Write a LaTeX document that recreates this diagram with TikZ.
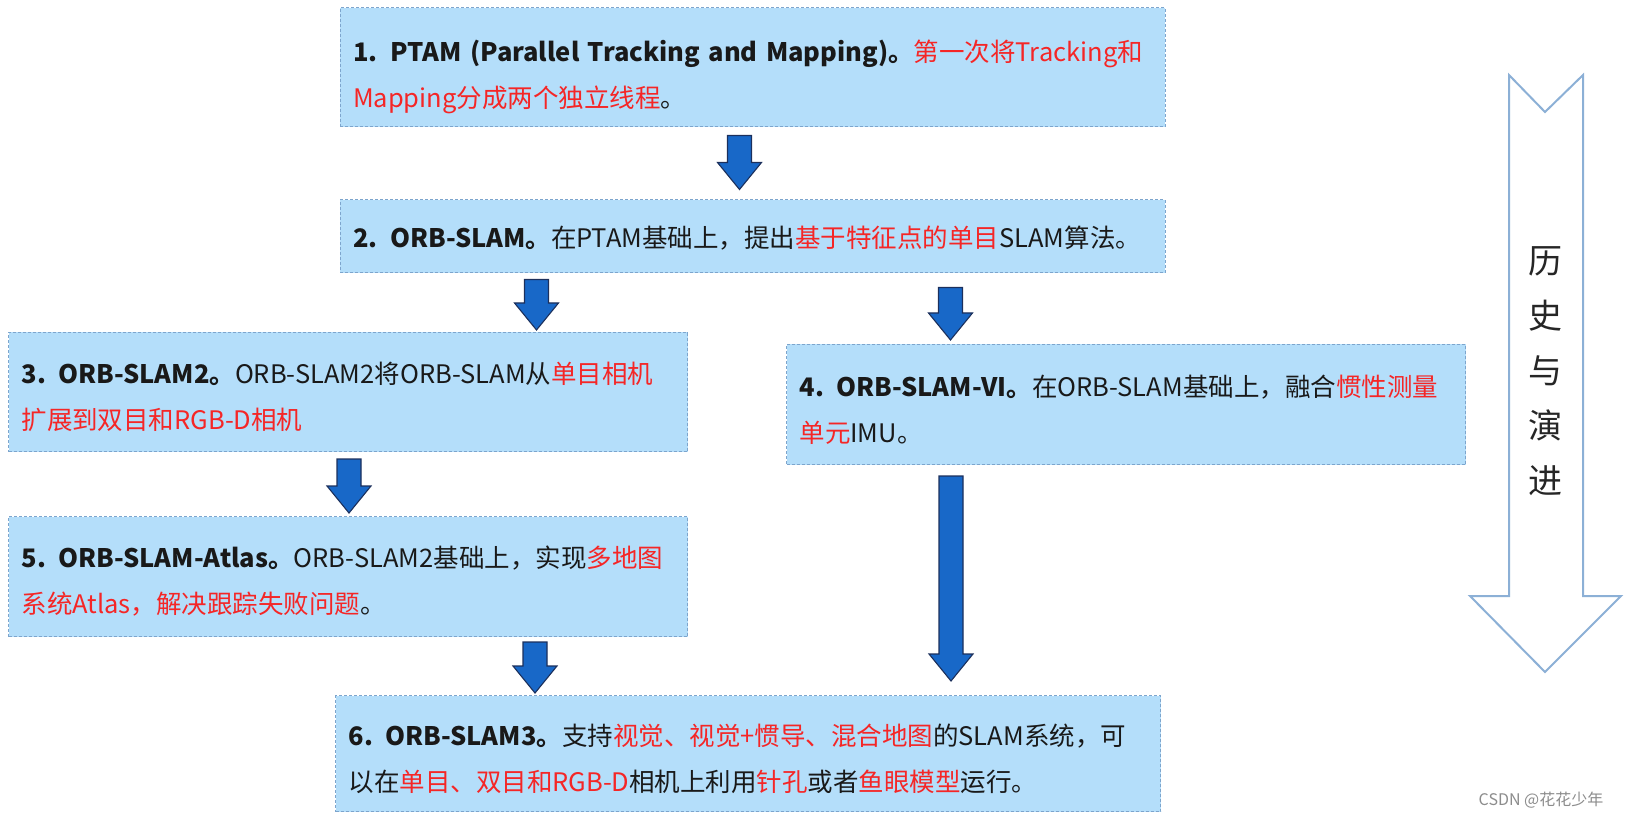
\documentclass[tikz,border=0pt]{standalone}
\usepackage{fontspec}
\setmainfont{Noto Sans CJK SC}
\usetikzlibrary{positioning,calc}

\definecolor{fundo}{RGB}{180,222,250}
\definecolor{borda}{RGB}{125,165,205}
\definecolor{destaque}{RGB}{245,38,38}
\definecolor{azul}{RGB}{24,104,200}
\definecolor{azulesc}{RGB}{28,48,92}
\definecolor{contorno}{RGB}{140,176,214}

\newcommand\hl[1]{\textcolor{destaque}{#1}}
% text sits a little low in the boxes
\def\descevalor{10}
\newcommand\baixa{\par\vspace*{-\descevalor pt}}
% block arrow: top of the shaft, then the tip
\newcommand\seta[2]{%
  \path[seta] let \p1=#1, \p2=#2 in
    (\x1-12pt,\y1) -- (\x1+12pt,\y1) -- (\x1+12pt,\y2+27pt)
    -- (\x1+22pt,\y2+27pt) -- (\x1,\y2) -- (\x1-22pt,\y2+27pt)
    -- (\x1-12pt,\y2+27pt) -- cycle;}

\begin{document}
\begin{tikzpicture}[
  x=1pt, y=-1pt,
  font=\fontsize{25.5}{46}\selectfont,
  desce/.code={\def\descevalor{#1}},
  etapa/.style={draw=borda, dashed, dash pattern=on 3pt off 2pt, line width=1pt,
                fill=fundo, align=left, inner xsep=13pt, inner ysep=0pt,
                text=black!90, execute at end node=\baixa},
  larga/.style={etapa, text width=799pt, minimum width=825pt},
  estreita/.style={etapa, text width=653pt, minimum width=679pt},
  seta/.style={fill=azul, draw=azulesc, line width=1.1pt, line join=miter},
  historia/.style={draw=contorno, line width=2pt, fill=white},
  marca/.style={font=\fontsize{16}{18}\selectfont, text=black!45}
]
  \useasboundingbox (0,0) rectangle (1626,818);

  % first line of the history
  \node[larga, minimum height=119pt, desce=18] (ptam) at (752.5,67.5)
       {\makebox[\linewidth][s]{\textbf{1. PTAM (Parallel Tracking and Mapping)。}\hl{第一次将Tracking和}}\\
        \hl{Mapping分成两个独立线程}。};
  \node[larga, minimum height=73pt, below=72pt of ptam, desce=6] (orb)
       {\textbf{2. ORB-SLAM。}在PTAM基础上，提出\hl{基于特征点的单目}SLAM算法。};

  % two branches
  \node[estreita, minimum height=119pt, anchor=north west] (orb2) at (8,332)
       {\textbf{3. ORB-SLAM2。}ORB-SLAM2将ORB-SLAM从\hl{单目相机}\\
        \hl{扩展到双目和RGB-D相机}};
  \node[estreita, minimum height=120pt, anchor=north west] (orbvi) at (786,344)
       {\textbf{4. ORB-SLAM-VI。}在ORB-SLAM基础上，融合\hl{惯性测量}\\
        \hl{单元}IMU。};
  \node[estreita, minimum height=120pt, below=64pt of orb2.south west, anchor=north west] (atlas)
       {\textbf{5. ORB-SLAM-Atlas。}ORB-SLAM2基础上，实现\hl{多地图}\\
        \hl{系统Atlas，解决跟踪失败问题}。};

  % the two meet again
  \node[larga, minimum height=116pt, anchor=north west] (orb3) at (335,695)
       {\textbf{6. ORB-SLAM3。}支持\hl{视觉、视觉+惯导、混合地图}的SLAM系统，可\\
        以在\hl{单目、双目和RGB-D}相机上利用\hl{针孔}或者\hl{鱼眼模型}运行。};

  \seta{($(ptam.south)+(-13,8)$)}{($(orb.north)+(0,-10)$)}
  \seta{($(orb.south west)+(197,6)$)}{($(orb2.north)+(0,-2)$)}
  \seta{($(orb.south west)+(611,14)$)}{($(orbvi.north)+(0,-4)$)}
  \seta{($(orb2.south)+(1,7)$)}{($(atlas.north)+(0,-3)$)}
  \seta{($(orbvi.south west)+(165,11)$)}{($(orb3.north)+(0,-14)$)}
  \seta{($(atlas.south west)+(527,5)$)}{($(orb3.north)+(0,-2)$)}

  % big hollow arrow on the right
  \draw[historia] (1509,75) -- (1545,112) -- (1583,75) -- (1583,596) -- (1621,596)
    -- (1545,672) -- (1470,596) -- (1509,596) -- cycle;
  \node[align=center, font=\fontsize{34}{55}\selectfont, text=black!85] (hist) at (1545,371)
       {历\\史\\与\\演\\进};

  \node[marca] (csdn) at (1541,800) {CSDN @花花少年};
\end{tikzpicture}
\end{document}
